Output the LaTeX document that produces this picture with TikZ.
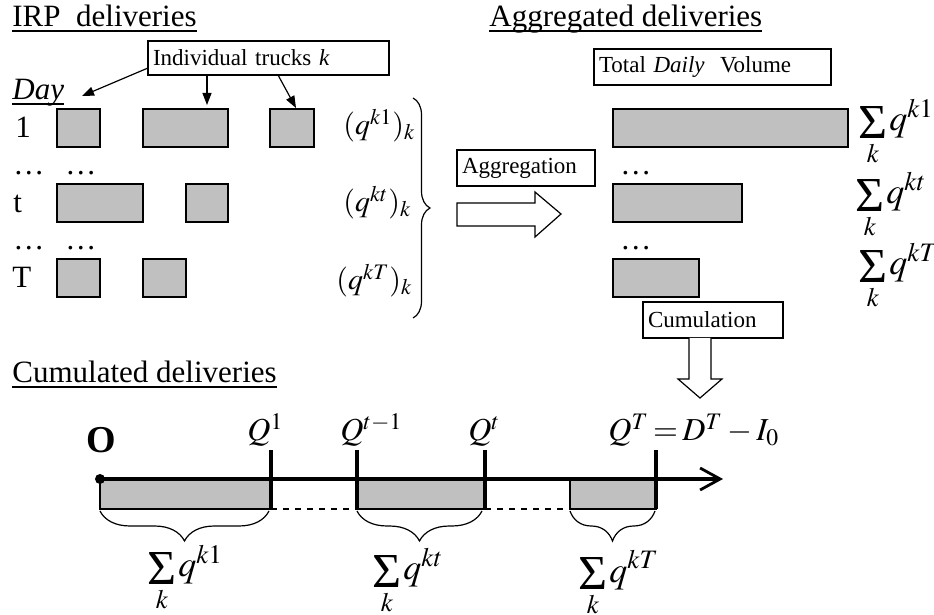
\documentclass[tikz,border=0pt]{standalone}
\IfFileExists{mathptmx.sty}{\usepackage{mathptmx}}{}
\usepackage{graphicx}
\usepackage[no-math]{fontspec}
\setmainfont{Liberation Serif}
\usetikzlibrary{arrows.meta,decorations.pathreplacing,calc}
\definecolor{barfill}{HTML}{C0C0C0}
% underline at a fixed depth below the baseline
\newcommand\hdrline[1]{\setbox0\hbox{#1}\rlap{\rule[-2.4pt]{\wd0}{0.75pt}}\box0}
% summation over k: a large serif sigma centred on the math axis, index set close below
\newcommand\ksum{\mathop{\vcenter{\hbox{\resizebox{14.5pt}{16pt}{\char"03A3}}}}\limits_{\raisebox{2pt}[\height][\depth]{$\scriptstyle k$}}\mkern-1mu}
\begin{document}
\begin{tikzpicture}[x=0.5pt,y=-0.5pt,
  hdr/.style={anchor=base west, inner sep=0, font=\fontsize{15.5}{18}\selectfont},
  mlab/.style={anchor=base west, inner sep=0, font=\fontsize{15}{18}\selectfont},
  qlab/.style={anchor=base west, inner sep=0, font=\fontsize{16}{18}\selectfont},
  slab/.style={anchor=base west, inner sep=0, font=\fontsize{18}{20}\selectfont},
  tbox/.style={draw, line width=0.6pt, anchor=north west, outer sep=0, inner xsep=2.5pt, inner ysep=0,
    align=left, font=\fontsize{11.5}{13}\selectfont},
  bar/.style={draw, line width=1pt, fill=barfill, anchor=north west, outer sep=0, inner sep=0, minimum height=19pt},
  cbar/.style={draw, line width=1pt, fill=barfill, anchor=north west, outer sep=0, inner sep=0, minimum height=15pt},
  ptr/.style={line width=0.6pt, -{Triangle[length=6pt,width=4.5pt]}},
  hollow/.style={line width=0.6pt, fill=white},
  tick/.style={line width=1.6pt},
  curly/.style={decorate, line width=0.6pt},
]
\useasboundingbox (0,0) rectangle (934,615);

% ---------- headings ----------
\node[hdr] (irp) at (12,27) {\hdrline{IRP\ \ deliveries}};
\node[hdr] (agg) at (489,27) {\hdrline{Aggregated deliveries}};
\node[hdr] (cum) at (12,383) {\hdrline{Cumulated deliveries}};

% ---------- individual deliveries per day ----------
\node[tbox, text width=115.5pt, minimum height=17pt] (trucks) at (148,41) {Individual trucks \textit{k}};
\node[hdr] (day) at (12,100) {\hdrline{\textit{Day}}};

\node[hdr] (r1) at (15,138) {1};
\node[hdr] (rd1) at (13,175) {…};
\node[hdr] (rd2) at (65,175) {…};
\node[hdr] (rt) at (13,213) {t};
\node[hdr] (rd3) at (13,250) {…};
\node[hdr] (rd4) at (65,250) {…};
\node[hdr] (rT) at (12,288) {T};

\node[bar, minimum width=21.5pt] (b11) at (57,109) {};
\node[bar, minimum width=42.5pt] (b12) at (143,109) {};
\node[bar, minimum width=22pt]   (b13) at (270,109) {};
\node[bar, minimum width=43pt]   (bt1) at (57,184) {};
\node[bar, minimum width=21pt]   (bt2) at (186,184) {};
\node[bar, minimum width=21.5pt] (bT1) at (57,259) {};
\node[bar, minimum width=21.5pt] (bT2) at (143,259) {};

\coordinate (d1) at (82,96);
\coordinate (d2) at (207,105);
\coordinate (d3) at (296,108);
\draw[ptr] ($(trucks.south west)+(0,-7)$) -- (d1);
\draw[ptr] ($(trucks.south west)+(59,0)$) -- (d2);
\draw[ptr] ($(trucks.south west)+(130,0)$) -- (d3);

\node[mlab] (q1) at (343,135) {$(q^{k1})_{k}$};
\node[mlab] (qt) at (343,212) {$(q^{kt})_{k}$};
\node[mlab] (qT) at (336,290) {$(q^{kT})_{k}$};

\draw[curly, decoration={brace, amplitude=8.5pt}] (413,98) -- (413,318);

% ---------- aggregation ----------
\node[tbox, text width=64pt, minimum height=18pt] (aggr) at (457,150) {Aggregation};
\draw[hollow] (457,203) -- (535,203) -- (535,192) -- (561,214) -- (535,237) -- (535,226) -- (457,226) -- cycle;

\node[tbox, text width=113.5pt, minimum height=18pt] (total) at (594,49) {Total \textit{Daily}\ \ Volume};

\node[bar, minimum width=117.5pt] (a1) at (613,109) {};
\node[hdr] (ad1) at (620,175) {…};
\node[bar, minimum width=64.5pt] (a2) at (613,184) {};
\node[hdr] (ad2) at (620,250) {…};
\node[bar, minimum width=43pt] (a3) at (613,259) {};

\node[slab] (s1) at (858,131) {$\ksum q^{k1}$};
\node[slab] (s2) at (855,204) {$\ksum q^{kt}$};
\node[slab] (s3) at (858,275) {$\ksum q^{kT}$};

% ---------- cumulation ----------
\node[tbox, text width=65pt, minimum height=18pt] (cumul) at (643,302) {Cumulation};
\draw[hollow] (689,338) -- (689,379) -- (678,379) -- (700,398) -- (722,379) -- (711,379) -- (711,338);

% ---------- cumulated axis ----------
\node[cbar, minimum width=85.5pt] (c1) at (100,479) {};
\node[cbar, minimum width=64pt]   (c2) at (357,479) {};
\node[cbar, minimum width=43pt]   (c3) at (570,479) {};
\draw[dashed, line width=0.6pt] (c1.south east) -- (c2.south west);
\draw[dashed, line width=0.6pt] (c2.south east) -- (c3.south west);

\node[circle, fill, inner sep=0, minimum size=5pt] (origin) at (100,479) {};
\coordinate (axend) at (723,479);
\draw[line width=1.6pt, -{Straight Barb[length=10pt,width=11pt,line width=1.4pt]}] (origin.center) -- (axend);
\draw[white, line width=0.5pt, dash pattern=on 1pt off 2.5pt] ($(c1.north east)+(4,-2)$) -- ($(c2.north west)+(-4,-2)$);
\draw[white, line width=0.5pt, dash pattern=on 1pt off 2.5pt] ($(c2.north east)+(4,-2)$) -- ($(c3.north west)+(-4,-2)$);

\node[anchor=base west, inner sep=0, font=\bfseries\fontsize{19}{20}\selectfont] (olab) at (86,452) {O};

\coordinate (k1) at (271,450);
\coordinate (k2) at (357,450);
\coordinate (k3) at (485,450);
\coordinate (k4) at (656,450);
\draw[tick] (k1) -- (c1.south east);
\draw[tick] (k2) -- (c2.south west);
\draw[tick] (k3) -- (c2.south east);
\draw[tick] (k4) -- (c3.south east);

\node[qlab] (Q1) at (247,441) {$Q^{1}$};
\node[qlab] (Qtm) at (340,441) {$Q^{t-1}$};
\node[qlab] (Qt) at (468,441) {$Q^{t}$};
\node[qlab] (QT) at (608,441) {$\thickmuskip=2.5mu\medmuskip=2.5mu Q^{T}=D^{T}-I_{0}$};

\draw[curly, decoration={brace, mirror, amplitude=15pt}] ($(c1.south west)+(0,2)$) -- ($(c1.south east)+(-2,2)$);
\draw[curly, decoration={brace, mirror, amplitude=15pt}] ($(c2.south west)+(0,2)$) -- ($(c2.south east)+(-3,2)$);
\draw[curly, decoration={brace, mirror, amplitude=15pt}] ($(c3.south west)+(0,2)$) -- ($(c3.south east)+(-1,2)$);

\node[slab] (cs1) at (147,577) {$\ksum q^{k1}$};
\node[slab] (cs2) at (372,580) {$\ksum q^{kt}$};
\node[slab] (cs3) at (578,582) {$\ksum q^{kT}$};
\end{tikzpicture}
\end{document}
